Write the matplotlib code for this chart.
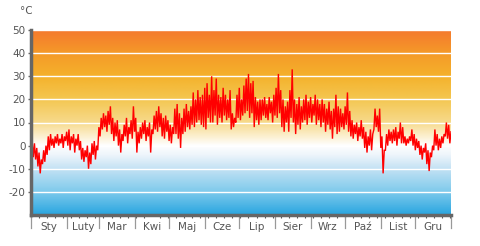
import numpy as np
import matplotlib
matplotlib.use("Agg")
import matplotlib.pyplot as plt
from matplotlib.colors import LinearSegmentedColormap
from matplotlib.transforms import blended_transform_factory

# 2-day blocks: low and high temperature (°C)
t_low = [-2, -5, -6, -9, -12, -8, -7, -4, -2, 0,
         -1, 1, 0, 1, -1, 2, 0, -2, 1, -3,
         0, -2, -6, -7, -5, -10, -8, -4, -6, -2,
         4, 7, 8, 6, 9, 5, 2, 4, 0, -3,
         2, 4, 1, 5, 3, 6, -3, 1, 3, 5,
         2, 4, -3, 5, 7, 6, 8, 4, 3, 6,
         2, 1, 5, 5, 3, -1, 5, 6, 8, 7,
         9, 8, 10, 11, 9, 8, 7, 12, 10, 10,
         13, 9, 12, 10, 13, 11, 12, 7, 8, 10,
         12, 11, 13, 14, 15, 12, 14, 8, 11, 9,
         11, 13, 12, 11, 14, 10, 13, 12, 14, 8,
         6, 10, 6, 12, 10, 5, 9, 7, 10, 11,
         9, 12, 10, 13, 9, 11, 8, 10, 6, 9,
         7, 3, 8, 5, 6, 8, 7, 9, 6, 4,
         3, 5, 2, 4, 3, -1, -3, 0, -2, 7,
         8, 6, -1, -12, -2, 0, 2, 1, 2, 0,
         3, 1, 1, 0, 1, 2, 0, -2, -1, -4,
         -6, -3, -8, -11, -5, -2, 0, -2, -1, 1,
         4, 3, 1]
t_high = [2, 1, -1, -3, -6, -2, 0, 4, 5, 3,
          4, 5, 3, 5, 4, 6, 7, 4, 5, 3,
          5, 2, -1, -2, 0, -3, 1, 2, 0, 8,
          12, 14, 13, 15, 17, 12, 10, 11, 7, 5,
          9, 12, 8, 11, 17, 12, 6, 8, 10, 11,
          8, 10, 7, 13, 15, 17, 14, 12, 13, 11,
          9, 8, 16, 18, 14, 12, 16, 18, 15, 17,
          23, 20, 24, 21, 22, 25, 27, 22, 30, 24,
          29, 22, 21, 25, 22, 20, 24, 14, 12, 22,
          25, 20, 26, 29, 31, 27, 28, 21, 19, 20,
          20, 21, 18, 21, 19, 22, 25, 31, 24, 20,
          17, 19, 24, 33, 20, 18, 21, 17, 20, 22,
          19, 21, 18, 22, 20, 18, 20, 18, 16, 19,
          15, 16, 22, 17, 16, 14, 17, 23, 15, 11,
          9, 10, 8, 11, 8, 6, 4, 7, 5, 16,
          13, 16, 4, -2, 5, 7, 6, 7, 8, 6,
          10, 8, 4, 3, 4, 7, 5, 3, 2, 0,
          -1, 1, -2, -3, 0, 7, 5, 3, 4, 5,
          10, 9, 6]

months = ["Sty", "Luty", "Mar", "Kwi", "Maj", "Cze",
          "Lip", "Sier", "Wrz", "Paź", "List", "Gru"]
month_days = [31, 28, 31, 30, 31, 30, 31, 31, 30, 31, 30, 31]
y_ticks = [-20, -10, 0, 10, 20, 30, 40, 50]

# build zigzag series
xs, ys = [], []
for i, (lo, hi) in enumerate(zip(t_low, t_high)):
    xs += [2 * i, 2 * i + 1]
    ys += [lo, hi]
xs = np.array(xs, dtype=float)
xs = np.clip(xs, 0, 365)

fig = plt.figure(figsize=(4.8, 2.46), dpi=100)
ax = fig.add_axes([31 / 480, 31 / 246, 420 / 480, 185 / 246])

# gradient background
stops = [(-30, "#2aa6e0"), (-20, "#7fcaec"), (-10, "#c4e2f4"), (-4, "#eef5fb"),
         (0, "#ffffff"), (4, "#fcf0d0"), (10, "#f7da8c"), (20, "#f4c752"),
         (30, "#f4b22c"), (40, "#f59a28"), (50, "#f47a2e")]
cmap = LinearSegmentedColormap.from_list(
    "bg", [((v + 30) / 80, c) for v, c in stops])
grad = np.linspace(0, 1, 400).reshape(-1, 1)
ax.imshow(grad, extent=[0, 365, -30, 50], origin="lower", aspect="auto",
          cmap=cmap, zorder=0, interpolation="bilinear")

for yv in y_ticks:
    ax.axhline(yv, color="white", lw=1.0, zorder=1)

ax.plot(xs, ys, color="#ff0000", lw=1.0, zorder=3, solid_joinstyle="miter")

ax.set_xlim(0, 365)
ax.set_ylim(-30, 50)

for s in ["top", "right"]:
    ax.spines[s].set_visible(False)
for s in ["left", "bottom"]:
    ax.spines[s].set_color("#666666")
    ax.spines[s].set_linewidth(2.5)
    ax.spines[s].set_zorder(5)

ax.set_yticks(y_ticks)
ax.set_yticklabels([str(v) for v in y_ticks])
ax.tick_params(axis="y", length=2, width=1, color="#666666", labelcolor="#555555",
               labelsize=7.5, pad=2)

starts = np.cumsum([0] + month_days[:-1])
centers = starts + np.array(month_days) / 2
ax.set_xticks(centers)
ax.set_xticklabels(months)
ax.tick_params(axis="x", which="major", length=0, labelcolor="#555555",
               labelsize=7.5, pad=5)
ax.set_xticks(np.arange(0, 366, 7), minor=True)
ax.tick_params(axis="x", which="minor", length=2, width=0.8, color="#555555")

trans = blended_transform_factory(ax.transData, ax.transAxes)
for b in list(starts) + [365]:
    ax.plot([b, b], [-0.013, -0.07], color="#999999", lw=0.9,
            transform=trans, clip_on=False)

fig.text(20 / 480, 1 - 11 / 246, "°C", color="#555555", fontsize=7.5,
         va="center", ha="left")

fig.savefig("out.png", dpi=100)
